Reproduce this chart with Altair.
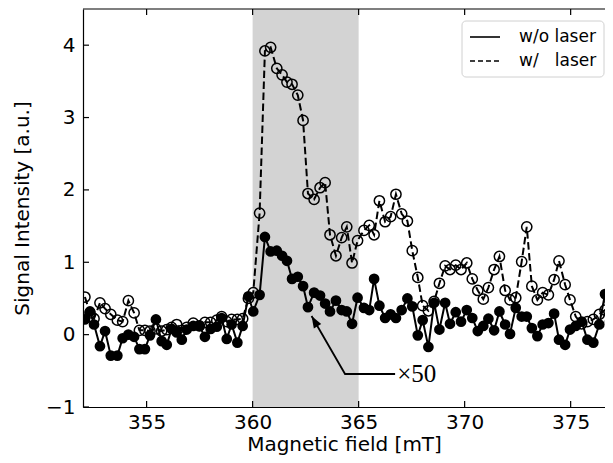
import altair as alt
import pandas as pd

# ---- data ----
field_mT = [352.09, 352.33, 352.52, 352.80, 353.04, 353.31, 353.62, 353.87, 354.14, 354.41,
            354.66, 354.92, 355.16, 355.44, 355.71, 355.95, 356.18, 356.42, 356.66, 356.89,
            357.20, 357.49, 357.75, 358.02, 358.31, 358.54, 358.78, 359.01, 359.28, 359.53,
            359.80, 360.03, 360.33, 360.58, 360.85, 361.14, 361.39, 361.62, 361.86, 362.13,
            362.38, 362.61, 362.90, 363.18, 363.42, 363.65, 363.93, 364.20, 364.44, 364.69,
            364.95, 365.25, 365.50, 365.73, 365.98, 366.25, 366.51, 366.76, 367.03, 367.30,
            367.53, 367.79, 368.02, 368.29, 368.56, 368.81, 369.08, 369.31, 369.58, 369.83,
            370.10, 370.36, 370.62, 370.88, 371.12, 371.39, 371.64, 371.91, 372.14, 372.41,
            372.69, 372.93, 373.17, 373.43, 373.68, 373.95, 374.22, 374.45, 374.74, 374.97,
            375.24, 375.52, 375.79, 376.07, 376.35, 376.62, 376.86, 377.00]

wo_laser = [0.21, 0.32, 0.14, -0.16, 0.05, -0.29, -0.29, -0.05, 0.00, -0.03,
            -0.20, -0.20, -0.01, 0.21, -0.09, -0.14, 0.08, 0.03, -0.07, 0.07,
            0.12, 0.12, -0.03, 0.08, 0.11, 0.23, -0.06, 0.14, -0.11, 0.12,
            0.53, 0.32, 0.55, 1.35, 1.15, 1.16, 1.09, 1.02, 0.77, 0.80,
            0.67, 0.38, 0.58, 0.54, 0.43, 0.32, 0.47, 0.34, 0.32, 0.15,
            0.51, 0.37, 0.34, 0.77, 0.40, 0.23, 0.28, 0.23, 0.34, 0.50,
            0.39, -0.01, 0.20, -0.17, 0.44, 0.07, 0.44, 0.15, 0.31, 0.18,
            0.34, 0.23, 0.05, 0.12, 0.22, 0.06, 0.32, 0.14, 0.01, 0.37,
            0.25, 0.25, 0.09, -0.02, 0.14, 0.16, 0.29, -0.07, -0.14, 0.07,
            0.12, 0.18, -0.07, -0.11, 0.14, 0.56, 0.18, 0.03]

w_laser = [0.52, 0.30, 0.22, 0.44, 0.36, 0.28, 0.20, 0.18, 0.47, 0.30,
           0.06, 0.06, 0.05, 0.08, 0.05, 0.07, 0.10, 0.14, 0.06, 0.10,
           0.16, 0.12, 0.17, 0.17, 0.20, 0.25, 0.18, 0.21, 0.21, 0.22,
           0.50, 0.58, 1.68, 3.92, 3.97, 3.68, 3.59, 3.49, 3.46, 3.31,
           2.96, 1.95, 1.87, 2.03, 2.10, 1.38, 1.09, 1.34, 1.49, 0.99,
           1.30, 1.44, 1.51, 1.38, 1.85, 1.56, 1.63, 1.94, 1.67, 1.57,
           1.16, 0.79, 0.40, 0.33, 0.46, 0.71, 0.95, 0.90, 0.96, 0.90,
           0.99, 0.77, 0.61, 0.49, 0.65, 0.90, 1.08, 0.61, 0.48, 0.51,
           1.01, 1.49, 0.67, 0.48, 0.58, 0.55, 0.76, 1.02, 0.69, 0.48,
           0.25, 0.15, 0.18, 0.21, 0.28, 0.34, 0.46, 0.35]

band = [360.0, 365.0]
x_ticks = [355, 360, 365, 370, 375]
y_ticks = [-1, 0, 1, 2, 3, 4]
x_range = [352.0, 376.62]
y_range = [-1.0, 4.5]
series_labels = ["w/o laser", "w/\u00a0\u00a0\u00a0laser"]

arrow_x = [362.78, 364.36, 366.72]
arrow_y = [0.257, -0.544, -0.544]
note_text = "\u00d750"
note_x = [366.82]
note_y = [-0.544]

W, H = 522, 398

df = pd.DataFrame({"x": field_mT, "wo": wo_laser, "w": w_laser})

xscale = alt.Scale(domain=x_range, nice=False, zero=False)
yscale = alt.Scale(domain=y_range, nice=False, zero=False)
xaxis = alt.Axis(values=x_ticks, format="d", title="Magnetic field [mT]",
                 labelPadding=5, titlePadding=2)
yaxis = alt.Axis(values=y_ticks, format="d", title="Signal Intensity [a.u.]",
                 labelPadding=8, titlePadding=13)
X = alt.X("x:Q", scale=xscale, axis=xaxis)
Xn = alt.X("x:Q", scale=xscale)

band_layer = alt.Chart(pd.DataFrame({"x": [band[0]], "x2": [band[1]]})).mark_rect(
    color="#d3d3d3").encode(x=X, x2="x2:Q")

dash_line = alt.Chart(df).mark_line(color="black", strokeWidth=2, strokeDash=[7.5, 3.5], clip=True).encode(
    x=X, y=alt.Y("w:Q", scale=yscale, axis=yaxis))
open_pts = alt.Chart(df).mark_point(color="black", filled=False, strokeWidth=1.5, size=105, opacity=1, clip=True).encode(
    x=Xn, y=alt.Y("w:Q", scale=yscale))
solid_line = alt.Chart(df).mark_line(color="black", strokeWidth=2, clip=True).encode(
    x=Xn, y=alt.Y("wo:Q", scale=yscale))
filled_pts = alt.Chart(df).mark_point(color="black", filled=True, size=115, opacity=1, clip=True).encode(
    x=Xn, y=alt.Y("wo:Q", scale=yscale))

arrow_df = pd.DataFrame({"x": arrow_x, "y": arrow_y, "o": [0, 1, 2]})
arrow_line = alt.Chart(arrow_df).mark_line(color="black", strokeWidth=1.8).encode(
    x=Xn, y=alt.Y("y:Q", scale=yscale), order="o:O")
arrow_head = alt.Chart(arrow_df.iloc[[0]]).mark_point(
    shape="M0,0L-0.36,1L0.36,1Z", filled=True, color="black", opacity=1, size=560, angle=329.7
).encode(x=Xn, y=alt.Y("y:Q", scale=yscale))
note = alt.Chart(pd.DataFrame({"x": note_x, "y": note_y, "t": [note_text]})).mark_text(
    font="Liberation Serif", fontSize=25, align="left", baseline="middle", color="black"
).encode(x=Xn, y=alt.Y("y:Q", scale=yscale), text="t:N")

# inward ticks and top spine
xt = pd.DataFrame({"x": x_ticks})
yt = pd.DataFrame({"y": y_ticks})
tick_len = 6
top_ticks = alt.Chart(xt).mark_rule(color="black", strokeWidth=1.2).encode(
    x=Xn, y=alt.value(0), y2=alt.value(tick_len))
bot_ticks = alt.Chart(xt).mark_rule(color="black", strokeWidth=1.2).encode(
    x=Xn, y=alt.value(H), y2=alt.value(H - tick_len))
left_ticks = alt.Chart(yt).mark_rule(color="black", strokeWidth=1.2).encode(
    y=alt.Y("y:Q", scale=yscale), x=alt.value(0), x2=alt.value(tick_len))
top_spine = alt.Chart(pd.DataFrame({"a": [0]})).mark_rule(color="black", strokeWidth=1.2).encode(
    x=alt.value(0), x2=alt.value(W), y=alt.value(0))

# legend
one = pd.DataFrame({"a": [0]})
leg_box = alt.Chart(one).mark_rect(fill="white", stroke="#cccccc", strokeWidth=1, cornerRadius=4, opacity=0.9).encode(
    x=alt.value(379), x2=alt.value(521), y=alt.value(12), y2=alt.value(68))
leg_solid = alt.Chart(one).mark_rule(color="black", strokeWidth=1.6).encode(
    x=alt.value(387), x2=alt.value(417), y=alt.value(28))
leg_dash = alt.Chart(one).mark_rule(color="black", strokeWidth=1.6, strokeDash=[5, 3]).encode(
    x=alt.value(387), x2=alt.value(417), y=alt.value(52))
leg_t1 = alt.Chart(pd.DataFrame({"t": [series_labels[0]]})).mark_text(
    font="DejaVu Sans", fontSize=17, align="left", baseline="middle", color="black").encode(
    text="t:N", x=alt.value(436), y=alt.value(28))
leg_t2 = alt.Chart(pd.DataFrame({"t": [series_labels[1]]})).mark_text(
    font="DejaVu Sans", fontSize=17, align="left", baseline="middle", color="black").encode(
    text="t:N", x=alt.value(436), y=alt.value(52))

chart = alt.layer(
    band_layer, dash_line, open_pts, solid_line, filled_pts,
    arrow_line, arrow_head, note,
    top_ticks, bot_ticks, left_ticks, top_spine,
    leg_box, leg_solid, leg_dash, leg_t1, leg_t2
).properties(
    width=W, height=H,
    autosize=alt.AutoSizeParams(type="none"),
    padding={"left": 75, "top": 1, "right": 0, "bottom": 48},
).configure_view(stroke=None).configure_axis(
    labelFont="DejaVu Sans", labelFontSize=20, labelColor="black",
    titleFont="DejaVu Sans", titleFontSize=20, titleFontWeight="normal", titleColor="black",
    domainColor="black", domainWidth=1.2, ticks=False, grid=False,
)

chart.save("out.html", embed_options={"renderer": "svg", "actions": False})
